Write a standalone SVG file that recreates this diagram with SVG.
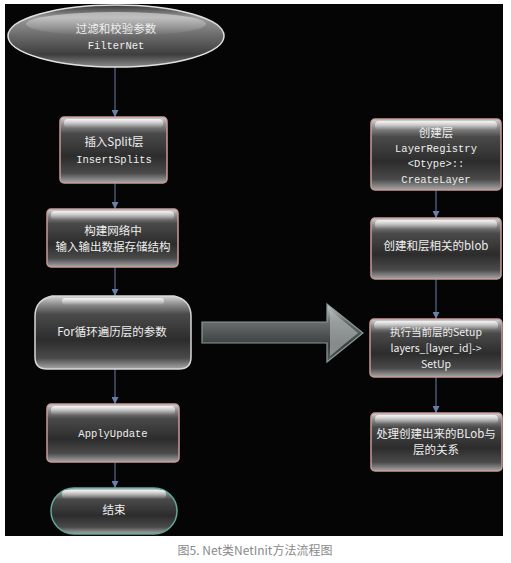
<svg xmlns="http://www.w3.org/2000/svg" width="511" height="563" viewBox="0 0 511 563">
<defs>
<linearGradient id="gBox" x1="0" y1="0" x2="0" y2="1">
<stop offset="0" stop-color="#d6d6d6"/>
<stop offset="0.12" stop-color="#8a8a8a"/>
<stop offset="0.25" stop-color="#4a4a4a"/>
<stop offset="0.6" stop-color="#2c2c2c"/>
<stop offset="0.85" stop-color="#4a4a4a"/>
<stop offset="1" stop-color="#a8a8a8"/>
</linearGradient>
<linearGradient id="gHi" x1="0" y1="0" x2="0" y2="1">
<stop offset="0" stop-color="#ffffff" stop-opacity="0.8"/>
<stop offset="1" stop-color="#ffffff" stop-opacity="0"/>
</linearGradient>
<linearGradient id="gEll" x1="0" y1="0" x2="0" y2="1">
<stop offset="0" stop-color="#3a3a3a"/>
<stop offset="0.2" stop-color="#9a9a9a"/>
<stop offset="0.5" stop-color="#6a6a6a"/>
<stop offset="0.8" stop-color="#3e3e3e"/>
<stop offset="1" stop-color="#8a8a8a"/>
</linearGradient>
<linearGradient id="gArrow" x1="0" y1="0" x2="0" y2="1">
<stop offset="0" stop-color="#c8cccc"/>
<stop offset="0.3" stop-color="#6a6e6e"/>
<stop offset="0.7" stop-color="#3a3e3e"/>
<stop offset="1" stop-color="#5a5e5e"/>
</linearGradient>
<marker id="ah" viewBox="0 0 10 10" refX="10" refY="5" markerWidth="7" markerHeight="7" orient="auto" markerUnits="userSpaceOnUse">
<path d="M0,0 L10,5 L0,10 z" fill="#6a7fa8"/>
</marker>
<style>
.box{fill:url(#gBox);stroke:#c79a96;stroke-width:1.5}
.hi{fill:url(#gHi)}
.cn{font-family:"Noto Sans CJK SC","Liberation Sans",sans-serif;font-size:11.5px;fill:#eeeeee;text-anchor:middle}
.sm{font-size:10.5px}
.mono{font-family:"Liberation Mono","Noto Sans CJK SC",monospace;font-size:10.5px;fill:#eeeeee;text-anchor:middle}
.edge{stroke:#6a7fa8;stroke-width:1;fill:none;marker-end:url(#ah)}
</style>
</defs>
<rect x="0" y="0" width="511" height="563" fill="#ffffff"/>
<rect x="5" y="4" width="498" height="532" fill="#050505"/>

<g id="connectors">
<line class="edge" x1="115" y1="67" x2="115" y2="117"/>
<line class="edge" x1="115" y1="183" x2="115" y2="209"/>
<line class="edge" x1="115" y1="267" x2="115" y2="296"/>
<line class="edge" x1="115" y1="369" x2="115" y2="404"/>
<line class="edge" x1="115" y1="462" x2="115" y2="488"/>
<line class="edge" x1="436" y1="190" x2="436" y2="218"/>
<line class="edge" x1="436" y1="279" x2="436" y2="319"/>
<line class="edge" x1="436" y1="377" x2="436" y2="413"/>
</g>

<g id="bigArrow">
<path d="M202,322 L327,322 L327,304 L363,333 L327,362 L327,343 L202,343 Z" fill="url(#gArrow)" stroke="#8a9a9a" stroke-width="1.2"/>
<path d="M330,310 L358,333 L330,356 Z" fill="#b8bcbc" opacity="0.6"/>
</g>

<g id="start">
<ellipse cx="116" cy="36" rx="108" ry="31" fill="url(#gEll)" stroke="#e0e0e0" stroke-width="1.5"/>
<ellipse cx="116" cy="24" rx="90" ry="12" class="hi" opacity="0.6"/>
<text class="cn" x="116" y="33">过滤和校验参数</text>
<text class="mono" x="116" y="49">FilterNet</text>
</g>

<g id="insertSplits">
<rect class="box" x="60" y="117" width="107" height="66" rx="4"/>
<rect class="hi" x="64" y="119" width="99" height="9" rx="4"/>
<text class="cn" x="114" y="146">插入Split层</text>
<text class="mono" x="114" y="163">InsertSplits</text>
</g>

<g id="buildNet">
<rect class="box" x="47" y="209" width="131" height="58" rx="4"/>
<rect class="hi" x="51" y="211" width="123" height="9" rx="4"/>
<text class="cn" x="113" y="235">构建网络中</text>
<text class="cn" x="113" y="251">输入输出数据存储结构</text>
</g>

<g id="forLoop">
<path d="M52,296 L174,296 Q191,300 191,316 L191,357 Q191,369 179,369 L47,369 Q35,369 35,357 L35,316 Q35,300 52,296 Z" fill="url(#gBox)" stroke="#d8d8d8" stroke-width="1.5"/>
<rect class="hi" x="62" y="298" width="102" height="7" rx="3"/>
<text class="cn" x="112" y="336">For循环遍历层的参数</text>
</g>

<g id="applyUpdate">
<rect class="box" x="47" y="404" width="132" height="58" rx="4"/>
<rect class="hi" x="51" y="406" width="124" height="9" rx="4"/>
<text class="mono" x="113" y="437">ApplyUpdate</text>
</g>

<g id="end">
<rect x="51" y="488" width="126" height="46" rx="23" fill="url(#gBox)" stroke="#5fa89c" stroke-width="1.5"/>
<rect class="hi" x="62" y="490" width="104" height="9" rx="4"/>
<text class="cn" x="114" y="514">结束</text>
</g>

<g id="createLayer">
<rect class="box" x="371" y="119" width="130" height="71" rx="4"/>
<rect class="hi" x="375" y="121" width="122" height="9" rx="4"/>
<text class="cn" x="436" y="137">创建层</text>
<text class="mono" x="436" y="152">LayerRegistry</text>
<text class="mono" x="436" y="167">&lt;Dtype&gt;::</text>
<text class="mono" x="436" y="183">CreateLayer</text>
</g>

<g id="createBlob">
<rect class="box" x="371" y="218" width="130" height="61" rx="4"/>
<rect class="hi" x="375" y="220" width="122" height="9" rx="4"/>
<text class="cn" x="436" y="250">创建和层相关的blob</text>
</g>

<g id="setup">
<rect class="box" x="370" y="319" width="132" height="58" rx="4"/>
<rect class="hi" x="374" y="321" width="124" height="9" rx="4"/>
<text class="cn sm" x="436" y="336">执行当前层的Setup</text>
<text class="cn sm" x="436" y="352">layers_[layer_id]-&gt;</text>
<text class="cn sm" x="436" y="368">SetUp</text>
</g>

<g id="blobRelation">
<rect class="box" x="371" y="413" width="131" height="58" rx="4"/>
<rect class="hi" x="375" y="415" width="123" height="9" rx="4"/>
<text class="cn" x="436" y="438">处理创建出来的BLob与</text>
<text class="cn" x="436" y="454">层的关系</text>
</g>

<text x="255" y="555" font-family="Noto Sans CJK SC, Liberation Sans, sans-serif" font-size="12" fill="#8a8a8a" text-anchor="middle">图5. Net类NetInit方法流程图</text>
</svg>
